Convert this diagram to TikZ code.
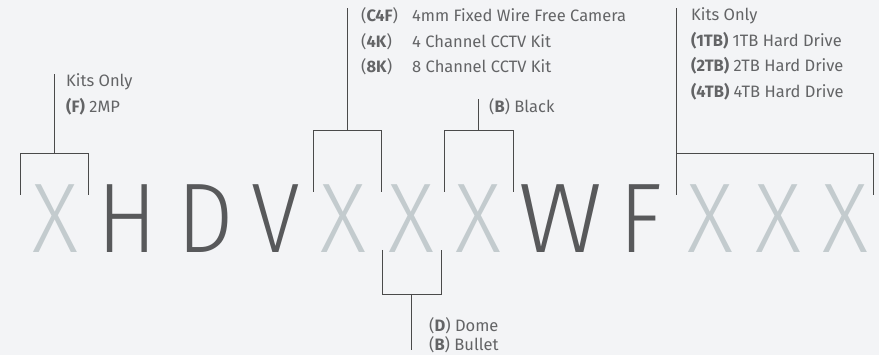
\documentclass[tikz,border=0pt]{standalone}
\usepackage{fontspec}
\usepackage{xcolor}
\usetikzlibrary{positioning}
\setmainfont{Fira Sans}
\newfontfamily\codefont[FakeStretch=0.9]{Fira Sans Light}
\newfontfamily\widefont[FakeStretch=1.05]{Fira Sans Light}
\definecolor{pagegrey}{HTML}{F3F4F6}
\definecolor{codedark}{HTML}{58595B}
\definecolor{codelight}{HTML}{C3CBCE}
\definecolor{notegrey}{HTML}{636466}
\definecolor{bracketgrey}{HTML}{4A4A4A}

\begin{document}
\begin{tikzpicture}[
      x=1pt,y=-1pt,
      letter/.style={inner sep=0pt,anchor=base,font=\codefont\fontsize{99}{99}\selectfont},
      fixed/.style={letter,text=codedark},
      option/.style={letter,text=codelight},
      note/.style={inner sep=0pt,anchor=base west,font=\fontsize{16.5}{18}\selectfont,text=notegrey},
      bracket/.style={draw=bracketgrey,line width=0.8pt}
    ]
    \fill[pagegrey] (0,0) rectangle (879,355);
    \useasboundingbox (0,0) rectangle (879,355);

    % the code letters
    \foreach \ch/\cx/\kind/\nm in {X/55/option/xa,H/127.5/fixed/h,D/206/fixed/d,V/275.5/fixed/v,
        X/343/option/xb,X/411.5/option/xc,X/478/option/xd,F/641/fixed/f,
        X/710/option/xe,X/778/option/xf,X/845.5/option/xg}
      \node[\kind] (\nm) at (\cx,253) {\ch};
    \node[fixed,font=\widefont\fontsize{99}{99}\selectfont] (w) at (561,253) {W};

    % resolution
    \node[note] (kitsa) at (66,87) {Kits Only};
    \node[note] (mp) at (66,113) {\textbf{(F)} 2MP};
    \draw[bracket] (20,195) |- (88,153) -- (88,195);
    \draw[bracket] (54,153) -- (kitsa.north west -| 54,0);

    % product type
    \node[note] (cf) at (361,22) {(\textbf{C4F})};
    \node[note] (fk) at (361,48) {(\textbf{4K})};
    \node[note] (ek) at (361,73) {(\textbf{8K})};
    \node[note] (cam) at (412,22) {4mm Fixed Wire Free Camera};
    \node[note] (kit4) at (412,48) {4 Channel CCTV Kit};
    \node[note] (kit8) at (412,73) {8 Channel CCTV Kit};
    \draw[bracket] (313,192) |- (381,130) -- (381,192);
    \draw[bracket] (347,130) -- (cf.north west -| 347,0);

    % housing
    \node[note] (dome) at (429,332) {(\textbf{D}) Dome};
    \node[note] (bullet) at (429,351) {(\textbf{B}) Bullet};
    \draw[bracket] (382,250) |- (441,294) -- (441,250);
    \draw[bracket] (411,294) -- (411,350);

    % colour
    \node[note] (black) at (489,113) {(\textbf{B}) Black};
    \draw[bracket] (444,192) |- (513,130) -- (513,192);
    \draw[bracket] (478,130) -- (black.north west -| 478,0);

    % storage
    \node[note] (kitsb) at (691,21) {Kits Only};
    \node[note] (tb1) at (691,47) {\textbf{(1TB)} 1TB Hard Drive};
    \node[note] (tb2) at (691,72) {\textbf{(2TB)} 2TB Hard Drive};
    \node[note] (tb4) at (691,98) {\textbf{(4TB)} 4TB Hard Drive};
    \draw[bracket] (676,195) |- (873,153) -- (873,195);
    \draw[bracket] (676,153) -- (676,8);
  \end{tikzpicture}
\end{document}
